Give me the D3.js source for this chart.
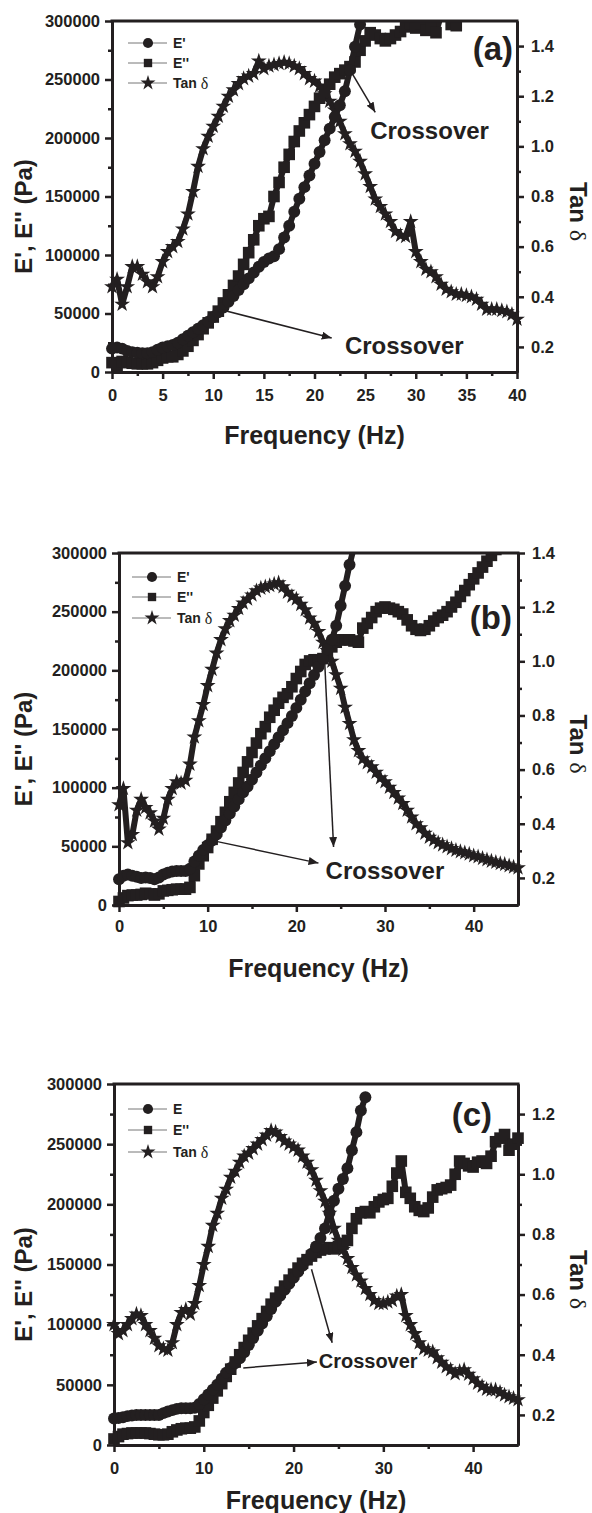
<!DOCTYPE html>
<html>
<head>
<meta charset="utf-8">
<script src="https://cdn.jsdelivr.net/npm/d3@7"></script>
<style>
  body { margin: 0; background: #fff; }
  svg text { font-family: "Liberation Sans", Arial, sans-serif; font-weight: bold; fill: #231f20; }
</style>
</head>
<body>
<svg id="chart" width="592" height="1513"></svg>
<script>
'use strict';

// ---- data ----
var freqA = [0,0.5,1,1.5,2,2.5,3,3.5,4,4.5,5,5.5,6,6.5,7,7.5,8,8.5,9,9.5,
  10,10.5,11,11.5,12,12.5,13,13.5,14,14.5,15,15.5,16,16.5,17,17.5,18,18.5,19,19.5,
  20,20.5,21,21.5,22,22.5,23,23.5,24,24.5,25,25.5,26,26.5,27,27.5,28,28.5,29,29.5,
  30,30.5,31,31.5,32,32.5,33,33.5,34,34.5,35,35.5,36,36.5,37,37.5,38,38.5,39,39.5,40];

var freqBC = [0,0.5,1,1.5,2,2.5,3,3.5,4,4.5,5,5.5,6,6.5,7,7.5,8,8.5,9,9.5,
  10,10.5,11,11.5,12,12.5,13,13.5,14,14.5,15,15.5,16,16.5,17,17.5,18,18.5,19,19.5,
  20,20.5,21,21.5,22,22.5,23,23.5,24,24.5,25,25.5,26,26.5,27,27.5,28,28.5,29,29.5,
  30,30.5,31,31.5,32,32.5,33,33.5,34,34.5,35,35.5,36,36.5,37,37.5,38,38.5,39,39.5,
  40,40.5,41,41.5,42,42.5,43,43.5,44,44.5,45];

// panel (a)
var ePrimeA = [20000,21000,20000,18000,17000,16500,16000,16000,17000,19000,
  21000,22000,23000,25000,28000,31000,34000,37000,40000,43000,
  47000,51000,55000,60000,65000,70000,75000,80000,85000,90000,
  94000,97000,99000,105000,115000,125000,137000,148000,158000,168000,
  178000,188000,198000,208000,218000,228000,240000,258000,278000,297000,
  315000,335000];
var eDoubleA = [8000,5000,9000,8000,7500,7000,7000,7000,8000,10000,
  12000,13000,13000,15000,18000,22000,27000,32000,37000,42000,
  47000,52000,59000,66000,74000,82000,92000,102000,113000,125000,
  131000,133000,150000,162000,175000,186000,197000,206000,213000,220000,
  227000,234000,240000,246000,252000,255000,258000,261000,265000,275000,
  283000,290000,288000,285000,283000,285000,288000,291000,295000,298000,
  294000,298000,292000,295000,290000,305000,310000,297000,296000,315000,
  330000];
var tanA = [0.44,0.47,0.37,0.44,0.52,0.52,0.49,0.46,0.44,0.48,
  0.54,0.58,0.60,0.62,0.67,0.73,0.82,0.92,0.99,1.04,
  1.08,1.12,1.16,1.20,1.225,1.25,1.27,1.28,1.29,1.34,
  1.31,1.32,1.325,1.33,1.335,1.33,1.32,1.31,1.29,1.27,
  1.26,1.24,1.21,1.18,1.145,1.10,1.05,1.01,0.98,0.94,
  0.89,0.84,0.79,0.76,0.73,0.70,0.66,0.645,0.64,0.70,
  0.58,0.54,0.51,0.50,0.48,0.45,0.43,0.42,0.41,0.41,
  0.405,0.40,0.39,0.37,0.35,0.35,0.35,0.345,0.34,0.33,
  0.31];

// panel (b)
var ePrimeB = [22000,25000,26000,25000,24000,23000,23500,23000,22000,23500,
  26000,27500,28500,29000,29000,29000,31000,37000,42000,47000,
  51000,55000,60000,66000,72000,78000,84000,90000,96000,101000,
  107000,113000,119000,125000,131000,137000,143000,149000,155000,161000,
  168000,175000,182000,189000,196000,203000,210000,218000,226000,238000,
  255000,272000,290000,305000];
var eDoubleB = [3000,6000,8000,8500,8500,9000,10000,9500,8500,9500,
  12000,12500,13000,13500,13500,13500,15000,25000,35000,42000,
  49000,56000,63000,71000,79000,88000,96000,104000,113000,122000,
  130000,138000,146000,152000,160000,166000,172000,177000,180000,186000,
  193000,199000,205000,208000,209000,209000,210000,212000,220000,224000,
  226000,226000,226000,225000,224000,236000,240000,245000,250000,253000,
  254000,253000,252000,250000,248000,243000,238000,235000,234000,235000,
  238000,242000,245000,247000,250000,254000,258000,263000,268000,273000,
  278000,283000,288000,293000,298000,303000,308000];
var tanB = [0.47,0.53,0.33,0.36,0.45,0.49,0.46,0.44,0.41,0.38,
  0.42,0.49,0.53,0.555,0.55,0.56,0.62,0.72,0.78,0.84,
  0.91,0.97,1.03,1.08,1.12,1.15,1.17,1.195,1.215,1.23,
  1.245,1.26,1.27,1.275,1.28,1.285,1.29,1.275,1.255,1.24,
  1.23,1.21,1.19,1.16,1.14,1.11,1.07,1.04,1.00,0.95,
  0.90,0.83,0.77,0.71,0.67,0.64,0.625,0.61,0.59,0.57,
  0.555,0.535,0.515,0.495,0.475,0.45,0.425,0.40,0.385,0.365,
  0.35,0.34,0.33,0.322,0.315,0.308,0.302,0.297,0.293,0.288,
  0.282,0.278,0.272,0.267,0.262,0.258,0.253,0.25,0.245,0.24,
  0.237];

// panel (c)
var ePrimeC = [22000,22500,23000,24000,24500,25000,25000,25000,25000,25000,
  25000,26500,27800,29000,30000,30500,30500,30500,31000,34000,
  38000,42000,46000,50000,55000,60000,64000,68000,72000,77000,
  83000,89000,95000,101000,107000,113000,119000,124000,129000,134000,
  139000,144000,149000,154000,159000,165000,172000,180000,193000,203000,
  213000,221000,230000,245000,260000,278000,289000];
var eDoubleC = [5000,7000,9000,9500,10000,10000,10000,10000,9500,9000,
  8500,8500,9000,11000,12500,13500,14000,14000,15000,20000,
  27000,33000,39000,45000,51000,57000,63000,69000,75000,81000,
  87000,93000,99000,105000,111000,117000,122000,127000,132000,137000,
  142000,147000,151000,154000,157000,160000,162000,163000,164000,163000,
  165000,167000,170000,180000,188000,193000,194000,193000,198000,202000,
  204000,205000,215000,226000,236000,210000,205000,198000,195000,194000,
  197000,206000,212000,213000,214000,216000,225000,236000,234000,232000,
  231000,235000,236000,234000,240000,252000,255000,258000,245000,250000,
  255000];
var tanC = [0.50,0.47,0.48,0.50,0.52,0.535,0.53,0.50,0.48,0.455,
  0.43,0.42,0.415,0.44,0.50,0.54,0.55,0.535,0.57,0.63,
  0.70,0.76,0.83,0.87,0.92,0.95,0.99,1.01,1.04,1.06,
  1.07,1.085,1.10,1.115,1.13,1.145,1.14,1.125,1.11,1.10,
  1.09,1.08,1.06,1.04,1.015,0.98,0.945,0.91,0.87,0.82,
  0.78,0.75,0.72,0.69,0.665,0.645,0.62,0.60,0.58,0.57,
  0.57,0.575,0.58,0.595,0.60,0.53,0.50,0.47,0.44,0.42,
  0.415,0.41,0.39,0.375,0.36,0.35,0.337,0.345,0.35,0.335,
  0.32,0.305,0.295,0.285,0.283,0.283,0.275,0.266,0.26,0.255,
  0.25];

// ticks and labels
var modulusTicks = [0, 50000, 100000, 150000, 200000, 250000, 300000];
var freqTicksA = [0, 5, 10, 15, 20, 25, 30, 35, 40];
var freqTicksBC = [0, 10, 20, 30, 40];
var tanTicksA = [0.2, 0.4, 0.6, 0.8, 1.0, 1.2, 1.4];
var tanTicksB = [0.2, 0.4, 0.6, 0.8, 1.0, 1.2, 1.4];
var tanTicksC = [0.2, 0.4, 0.6, 0.8, 1.0, 1.2];
var legendAB = ["E'", "E''", 'Tan '];
var legendC = ['E', "E''", 'Tan '];
// crossover annotations: [fromFreq, fromValue, toFreq, toValue]
var crossA = [[23.8, 254000, 26.0, 222000], [10.9, 53000, 21.7, 29000]];
var crossB = [[11.1, 54000, 22.5, 35700], [23.2, 207000, 24.2, 49400]];
var crossC = [[14.4, 64000, 22.6, 69000], [22.0, 146000, 24.3, 85000]];
// crossover text anchor: [freq, value]
var crossTextA = [[25.5, 206800], [23.0, 23000]];
var crossTextB = [[23.3, 29800]];
var crossTextC = [[22.8, 69400]];

var panels = [
  {id: 'a', freq: freqA, ePrime: ePrimeA, eDouble: eDoubleA, tan: tanA,
    xMax: 40, xTicks: freqTicksA, xMinorStep: 2.5, tanDomain: [0.1, 1.5], tanTicks: tanTicksA,
    legend: legendAB, arrows: crossA, texts: crossTextA, crossSize: 24,
    left: 112, right: 517, top: 21, bottom: 372,
    legendDx: 16, legendRows: [22, 42, 62], labelX: 513, labelY: 48, titleY: 435},
  {id: 'b', freq: freqBC, ePrime: ePrimeB, eDouble: eDoubleB, tan: tanB,
    xMax: 45, xTicks: freqTicksBC, xMinorStep: 5, tanDomain: [0.1, 1.4], tanTicks: tanTicksB,
    legend: legendAB, arrows: crossB, texts: crossTextB, crossSize: 24,
    left: 119, right: 518, top: 553, bottom: 905,
    legendDx: 13, legendRows: [24, 44, 65], labelX: 512, labelY: 617, titleY: 968},
  {id: 'c', freq: freqBC, ePrime: ePrimeC, eDouble: eDoubleC, tan: tanC,
    xMax: 45, xTicks: freqTicksBC, xMinorStep: 5, tanDomain: [0.1, 1.3], tanTicks: tanTicksC,
    legend: legendC, arrows: crossC, texts: crossTextC, crossSize: 20,
    left: 114, right: 518, top: 1084, bottom: 1445,
    legendDx: 14, legendRows: [25, 46, 68], labelX: 492, labelY: 1114, titleY: 1500}
];

var ink = '#231f20';
var svg = d3.select('#chart');

svg.append('defs').append('marker')
    .attr('id', 'arrowhead')
    .attr('viewBox', '0 0 10 8')
    .attr('refX', 10)
    .attr('refY', 4)
    .attr('markerWidth', 10)
    .attr('markerHeight', 8)
    .attr('markerUnits', 'userSpaceOnUse')
    .attr('orient', 'auto')
    .append('path')
    .attr('d', 'M0,0L10,4L0,8Z')
    .attr('fill', ink);

function toPoints(freq, values) {
    return values.map(function (v, i) {
        return {f: freq[i], v: v};
    });
}

function drawPanel(p) {
    var g = svg.append('g').attr('class', 'panel-' + p.id);

    var x = d3.scaleLinear().domain([0, p.xMax]).range([p.left, p.right]);
    var y = d3.scaleLinear().domain([0, 300000]).range([p.bottom, p.top]);
    var yTan = d3.scaleLinear().domain(p.tanDomain).range([p.bottom, p.top]);

    // only the top edge cuts markers off
    svg.select('defs').append('clipPath')
        .attr('id', 'clip-' + p.id)
        .append('rect')
        .attr('x', p.left - 20)
        .attr('y', p.top)
        .attr('width', p.right - p.left + 40)
        .attr('height', p.bottom - p.top + 20);

    var plot = g.append('g').attr('clip-path', 'url(#clip-' + p.id + ')');

    var series = [
        {values: p.tan, scale: yTan, type: d3.symbolStar, size: 78},
        {values: p.eDouble, scale: y, type: d3.symbolSquare, size: 135},
        {values: p.ePrime, scale: y, type: d3.symbolCircle, size: 112}
    ];

    series.forEach(function (s) {
        var pts = toPoints(p.freq, s.values);
        var line = d3.line()
                .x(function (d) { return x(d.f); })
                .y(function (d) { return s.scale(d.v); });
        plot.append('path')
            .datum(pts)
            .attr('d', line)
            .attr('fill', 'none')
            .attr('stroke', ink)
            .attr('stroke-width', 6)
            .attr('stroke-linejoin', 'round');
        plot.selectAll(null)
            .data(pts)
            .enter()
            .append('path')
            .attr('d', d3.symbol().type(s.type).size(s.size))
            .attr('transform', function (d) {
                return 'translate(' + x(d.f) + ',' + s.scale(d.v) + ')';
            })
            .attr('fill', ink);
    });

    // axes
    var leftAxis = d3.axisLeft(y).tickValues(modulusTicks).tickSize(7).tickSizeOuter(0)
            .tickPadding(5).tickFormat(d3.format('d'));
    var leftMinor = d3.axisLeft(y).tickValues(d3.range(25000, 300000, 50000)).tickSize(4)
            .tickSizeOuter(0).tickFormat('');
    var bottomAxis = d3.axisBottom(x).tickValues(p.xTicks).tickSize(7).tickSizeOuter(0)
            .tickPadding(p.id === 'b' ? 8 : 10).tickFormat(d3.format('d'));
    var bottomMinor = d3.axisBottom(x).tickValues(d3.range(p.xMinorStep, p.xMax, p.xMinorStep * 2))
            .tickSize(4).tickSizeOuter(0).tickFormat('');
    var rightAxis = d3.axisRight(yTan).tickValues(p.tanTicks).tickSize(7).tickSizeOuter(0)
            .tickPadding(7).tickFormat(d3.format('.1f'));
    var rightMinor = d3.axisRight(yTan)
            .tickValues(d3.range(p.tanDomain[0] + 0.2, p.tanDomain[1] - 0.01, 0.2))
            .tickSize(4).tickSizeOuter(0).tickFormat('');

    var axes = [
        [leftMinor, p.left, 0], [leftAxis, p.left, 0],
        [bottomMinor, 0, p.bottom], [bottomAxis, 0, p.bottom],
        [rightMinor, p.right, 0], [rightAxis, p.right, 0]
    ];
    axes.forEach(function (a) {
        var ag = g.append('g')
                .attr('transform', 'translate(' + a[1] + ',' + a[2] + ')')
                .call(a[0]);
        ag.select('.domain').attr('stroke', ink).attr('stroke-width', 3);
        ag.selectAll('.tick line').attr('stroke', ink).attr('stroke-width', 2.5);
        ag.selectAll('.tick text')
            .attr('font-size', '16.5px')
            .attr('font-family', '"Liberation Sans", Arial, sans-serif')
            .attr('font-weight', 'bold')
            .attr('fill', ink);
    });

    g.append('line')
        .attr('x1', p.left - 1.5).attr('x2', p.right + 1.5)
        .attr('y1', p.top).attr('y2', p.top)
        .attr('stroke', ink)
        .attr('stroke-width', 3);

    // axis titles
    var midY = (p.top + p.bottom) / 2;
    g.append('text')
        .attr('transform', 'translate(23,' + (midY + 20) + ') rotate(-90)')
        .attr('text-anchor', 'middle')
        .attr('dominant-baseline', 'central')
        .attr('font-size', '24px')
        .text("E', E'' (Pa)");

    var tanTitle = g.append('text')
        .attr('transform', 'translate(578,' + (midY + 15) + ') rotate(90)')
        .attr('text-anchor', 'middle')
        .attr('dominant-baseline', 'central')
        .attr('font-size', '24px')
        .text('Tan ');
    tanTitle.append('tspan')
        .attr('font-family', '"Liberation Serif", "DejaVu Serif", serif')
        .attr('font-weight', 'normal')
        .text('\u03b4');

    g.append('text')
        .attr('x', (p.left + p.right) / 2)
        .attr('y', p.titleY)
        .attr('text-anchor', 'middle')
        .attr('dominant-baseline', 'central')
        .attr('font-size', '25px')
        .text('Frequency (Hz)');

    // panel label
    g.append('text')
        .attr('x', p.labelX)
        .attr('y', p.labelY)
        .attr('text-anchor', 'end')
        .attr('dominant-baseline', 'central')
        .attr('font-size', '33px')
        .text('(' + p.id + ')');

    // legend
    var legendSymbols = [d3.symbolCircle, d3.symbolSquare, d3.symbolStar];
    var legendSizes = [80, 70, 70];
    p.legend.forEach(function (label, i) {
        var ly = p.top + p.legendRows[i];
        var lx = p.left + p.legendDx;
        g.append('line')
            .attr('x1', lx).attr('x2', lx + 39)
            .attr('y1', ly).attr('y2', ly)
            .attr('stroke', '#777')
            .attr('stroke-width', 1);
        g.append('path')
            .attr('d', d3.symbol().type(legendSymbols[i]).size(legendSizes[i]))
            .attr('transform', 'translate(' + (lx + 20) + ',' + ly + ')')
            .attr('fill', ink);
        var t = g.append('text')
            .attr('x', lx + 45)
            .attr('y', ly)
            .attr('dominant-baseline', 'central')
            .attr('font-size', '14px')
            .text(label);
        if (i === 2) {
            t.append('tspan')
                .attr('font-family', '"Liberation Serif", "DejaVu Serif", serif')
                .attr('font-weight', 'normal')
                .attr('font-size', '16px')
                .text('\u03b4');
        }
    });

    // crossover arrows and text
    p.arrows.forEach(function (a) {
        g.append('line')
            .attr('x1', x(a[0])).attr('y1', y(a[1]))
            .attr('x2', x(a[2])).attr('y2', y(a[3]))
            .attr('stroke', ink)
            .attr('stroke-width', 1.5)
            .attr('marker-end', 'url(#arrowhead)');
    });
    p.texts.forEach(function (c) {
        g.append('text')
            .attr('x', x(c[0]))
            .attr('y', y(c[1]))
            .attr('dominant-baseline', 'central')
            .attr('font-size', p.crossSize + 'px')
            .text('Crossover');
    });
}

panels.forEach(drawPanel);
</script>
</body>
</html>
